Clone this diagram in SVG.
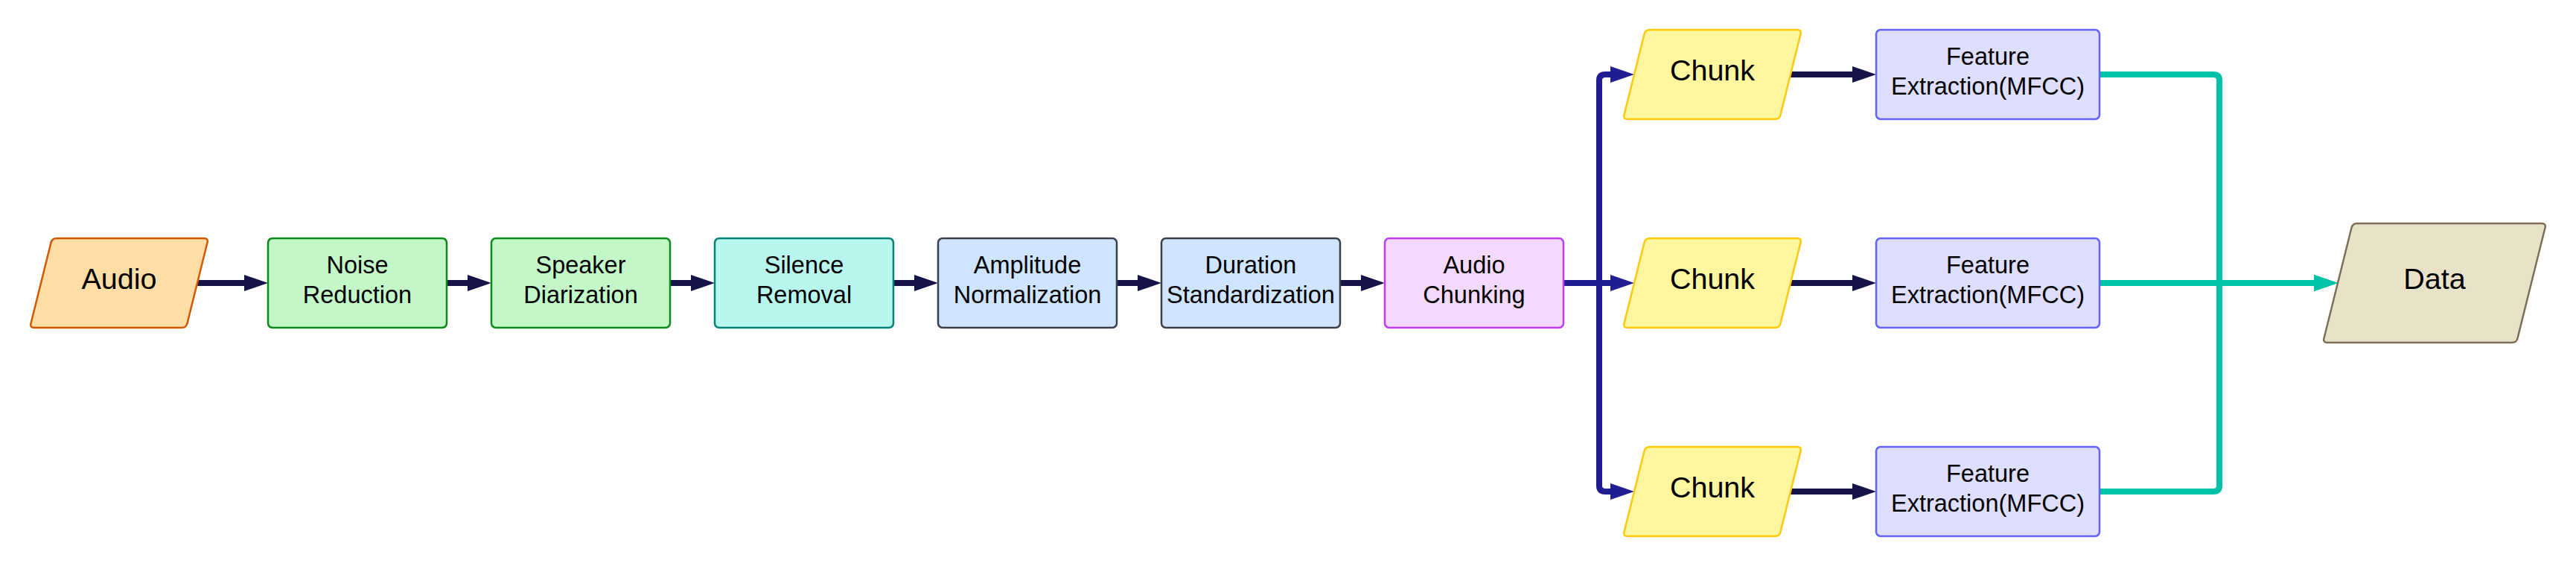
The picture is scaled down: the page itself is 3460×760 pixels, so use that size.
<svg xmlns="http://www.w3.org/2000/svg" width="3460" height="760" viewBox="0 0 3460 760">
<style>
  text { font-family: "Liberation Sans", Arial, sans-serif; fill: #000; text-anchor: middle; }
  .t { font-size: 32.5px; }
  .big { font-size: 39.5px; }
  .box { stroke-width: 2.5; }
  .green { fill: #c3f7c8; stroke: #0b8a1a; }
  .teal { fill: #b8f5ec; stroke: #008577; }
  .blue { fill: #cfe4ff; stroke: #3a414a; }
  .purple { fill: #f4d9ff; stroke: #bf3cf0; }
  .feat { fill: #dedeff; stroke: #6262ff; }
  .audio { fill: #fedda6; stroke: #d05800; }
  .chunk { fill: #fff6a0; stroke: #ffc80a; }
  .data { fill: #e8e2c8; stroke: #7d6f56; }
  .c { fill: none; stroke-width: 8; }
  .navy { stroke: #161447; }
  .cblue { stroke: #201c91; }
  .cteal { stroke: #00c2a8; }
</style>
<defs>
  <marker id="aNavy" markerUnits="userSpaceOnUse" markerWidth="32" markerHeight="22" refX="12" refY="11" orient="auto">
    <path d="M0,0 L32,11 L0,22 Z" fill="#161447"/>
  </marker>
  <marker id="aBlue" markerUnits="userSpaceOnUse" markerWidth="32" markerHeight="22" refX="12" refY="11" orient="auto">
    <path d="M0,0 L32,11 L0,22 Z" fill="#201c91"/>
  </marker>
  <marker id="aTeal" markerUnits="userSpaceOnUse" markerWidth="32" markerHeight="22" refX="12" refY="11" orient="auto">
    <path d="M0,0 L32,11 L0,22 Z" fill="#00c2a8"/>
  </marker>
  <path id="para" d="M76,320 H274 Q280,320 278.5,325.8 L251.5,434.2 Q250,440 244,440 H46 Q40,440 41.5,434.2 L68.5,325.8 Q70,320 76,320 Z"/>
</defs>

<g id="connectors">
  <path class="c navy" d="M265,380 H340" marker-end="url(#aNavy)"/>
  <path class="c navy" d="M600,380 H640" marker-end="url(#aNavy)"/>
  <path class="c navy" d="M900,380 H940" marker-end="url(#aNavy)"/>
  <path class="c navy" d="M1200,380 H1240" marker-end="url(#aNavy)"/>
  <path class="c navy" d="M1500,380 H1540" marker-end="url(#aNavy)"/>
  <path class="c navy" d="M1800,380 H1840" marker-end="url(#aNavy)"/>
  <path class="c cblue" d="M2100,380 H2148 V108 Q2148,100 2156,100 H2175" marker-end="url(#aBlue)"/>
  <path class="c cblue" d="M2100,380 H2148 V652 Q2148,660 2156,660 H2175" marker-end="url(#aBlue)"/>
  <path class="c cblue" d="M2100,380 H2175" marker-end="url(#aBlue)"/>
  <path class="c navy" d="M2405,100 H2500" marker-end="url(#aNavy)"/>
  <path class="c navy" d="M2405,380 H2500" marker-end="url(#aNavy)"/>
  <path class="c navy" d="M2405,660 H2500" marker-end="url(#aNavy)"/>
  <path class="c cteal" d="M2820,100 H2973 Q2981,100 2981,108 V380 H3120" marker-end="url(#aTeal)"/>
  <path class="c cteal" d="M2820,660 H2973 Q2981,660 2981,652 V380 H3120" marker-end="url(#aTeal)"/>
  <path class="c cteal" d="M2820,380 H3120" marker-end="url(#aTeal)"/>
</g>

<g id="audio">
  <use href="#para" class="audio box"/>
  <text class="big" x="160" y="388">Audio</text>
</g>
<g id="noise-reduction">
  <rect class="green box" x="360" y="320" width="240" height="120" rx="6"/>
  <text class="t" x="480" y="367">Noise</text>
  <text class="t" x="480" y="407">Reduction</text>
</g>
<g id="speaker-diarization">
  <rect class="green box" x="660" y="320" width="240" height="120" rx="6"/>
  <text class="t" x="780" y="367">Speaker</text>
  <text class="t" x="780" y="407">Diarization</text>
</g>
<g id="silence-removal">
  <rect class="teal box" x="960" y="320" width="240" height="120" rx="6"/>
  <text class="t" x="1080" y="367">Silence</text>
  <text class="t" x="1080" y="407">Removal</text>
</g>
<g id="amplitude-normalization">
  <rect class="blue box" x="1260" y="320" width="240" height="120" rx="6"/>
  <text class="t" x="1380" y="367">Amplitude</text>
  <text class="t" x="1380" y="407">Normalization</text>
</g>
<g id="duration-standardization">
  <rect class="blue box" x="1560" y="320" width="240" height="120" rx="6"/>
  <text class="t" x="1680" y="367">Duration</text>
  <text class="t" x="1680" y="407">Standardization</text>
</g>
<g id="audio-chunking">
  <rect class="purple box" x="1860" y="320" width="240" height="120" rx="6"/>
  <text class="t" x="1980" y="367">Audio</text>
  <text class="t" x="1980" y="407">Chunking</text>
</g>
<g id="chunk-1">
  <use href="#para" class="chunk box" transform="translate(2140,-280)"/>
  <text class="big" x="2300" y="108">Chunk</text>
</g>
<g id="chunk-2">
  <use href="#para" class="chunk box" transform="translate(2140,0)"/>
  <text class="big" x="2300" y="388">Chunk</text>
</g>
<g id="chunk-3">
  <use href="#para" class="chunk box" transform="translate(2140,280)"/>
  <text class="big" x="2300" y="668">Chunk</text>
</g>
<g id="feature-1">
  <rect class="feat box" x="2520" y="40" width="300" height="120" rx="6"/>
  <text class="t" x="2670" y="87">Feature</text>
  <text class="t" x="2670" y="127">Extraction(MFCC)</text>
</g>
<g id="feature-2">
  <rect class="feat box" x="2520" y="320" width="300" height="120" rx="6"/>
  <text class="t" x="2670" y="367">Feature</text>
  <text class="t" x="2670" y="407">Extraction(MFCC)</text>
</g>
<g id="feature-3">
  <rect class="feat box" x="2520" y="600" width="300" height="120" rx="6"/>
  <text class="t" x="2670" y="647">Feature</text>
  <text class="t" x="2670" y="687">Extraction(MFCC)</text>
</g>
<g id="data">
  <path class="data box" d="M3166,300 H3414 Q3420,300 3418.5,305.8 L3381.5,454.2 Q3380,460 3374,460 H3126 Q3120,460 3121.5,454.2 L3158.5,305.8 Q3160,300 3166,300 Z"/>
  <text class="big" x="3270" y="388">Data</text>
</g>
</svg>
